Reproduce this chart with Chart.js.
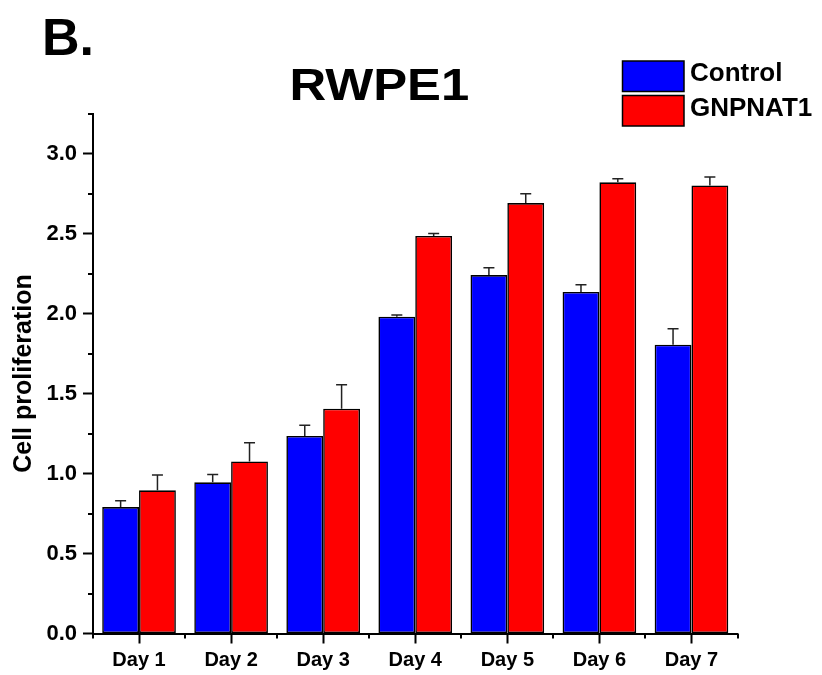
<!DOCTYPE html>
<html>
<head>
<meta charset="utf-8">
<script src="https://cdn.jsdelivr.net/npm/chart.js@4.4.1/dist/chart.umd.min.js"></script>
<style>
html,body{margin:0;padding:0;background:#fff;}
#wrap{width:822px;height:675px;position:relative;}
</style>
</head>
<body>
<div id="wrap"><canvas id="c" width="822" height="675"></canvas></div>
<script>
// ---- data ----
const categories = ['Day 1', 'Day 2', 'Day 3', 'Day 4', 'Day 5', 'Day 6', 'Day 7'];
const seriesNames = ['Control', 'GNPNAT1'];
const controlValues = [0.79, 0.945, 1.235, 1.98, 2.24, 2.135, 1.805];
const controlErrors = [0.04, 0.048, 0.067, 0.01, 0.046, 0.044, 0.10];
const gnpnatValues = [0.895, 1.075, 1.405, 2.485, 2.69, 2.82, 2.80];
const gnpnatErrors = [0.095, 0.117, 0.15, 0.015, 0.058, 0.022, 0.053];
const yTickLabels = ['0.0', '0.5', '1.0', '1.5', '2.0', '2.5', '3.0'];
const panelLabel = 'B.';
const chartTitle = 'RWPE1';
const yAxisTitle = 'Cell proliferation';

const FONT = '"Liberation Sans", Arial, Helvetica, sans-serif';
const isMajor = v => Math.abs(v * 2 - Math.round(v * 2)) < 1e-6;

const errorBarPlugin = {
  id: 'errorBars',
  afterDatasetsDraw(chart) {
    const ctx = chart.ctx;
    const ys = chart.scales.y;
    ctx.save();
    ctx.strokeStyle = '#222';
    ctx.lineWidth = 1.5;
    chart.data.datasets.forEach((ds, di) => {
      const meta = chart.getDatasetMeta(di);
      meta.data.forEach((el, i) => {
        const v = ds.data[i], e = ds.errors[i];
        const yTop = ys.getPixelForValue(v + e);
        const yBar = ys.getPixelForValue(v);
        ctx.beginPath();
        ctx.moveTo(el.x, yBar);
        ctx.lineTo(el.x, yTop);
        ctx.moveTo(el.x - 5.5, yTop);
        ctx.lineTo(el.x + 5.5, yTop);
        ctx.stroke();
      });
    });
    ctx.restore();
  }
};

const minorTickPlugin = {
  id: 'minorTicks',
  afterDraw(chart) {
    const ctx = chart.ctx;
    const xs = chart.scales.x, ys = chart.scales.y;
    const area = chart.chartArea;
    ctx.save();
    ctx.strokeStyle = '#000';
    ctx.lineWidth = 2;
    ctx.beginPath();
    ys.ticks.forEach(t => {
      if (!isMajor(t.value)) {
        const py = Math.round(ys.getPixelForValue(t.value));
        ctx.moveTo(area.left - 5, py);
        ctx.lineTo(area.left, py);
      }
    });
    for (let i = 0; i <= categories.length; i++) {
      const px = Math.round(xs.getPixelForValue(i - 0.5));
      ctx.moveTo(px, area.bottom);
      ctx.lineTo(px, area.bottom + 5);
    }
    ctx.stroke();
    ctx.restore();
  }
};

const annotationPlugin = {
  id: 'annotations',
  afterDraw(chart) {
    const ctx = chart.ctx;
    ctx.save();
    ctx.fillStyle = '#000';
    ctx.textAlign = 'left';
    ctx.textBaseline = 'alphabetic';
    // panel label
    ctx.font = 'bold 52px ' + FONT;
    ctx.fillText(panelLabel, 42, 55);
    // title (slightly wide lettering)
    ctx.font = 'bold 44px ' + FONT;
    const m = ctx.measureText(chartTitle);
    const ink = m.actualBoundingBoxLeft + m.actualBoundingBoxRight;
    const sx = 177 / ink;
    ctx.translate(291.7, 100);
    ctx.scale(sx, 1);
    ctx.fillText(chartTitle, m.actualBoundingBoxLeft, 0);
    ctx.setTransform(1, 0, 0, 1, 0, 0);
    // legend
    const boxes = [{y: 61}, {y: 95.5}];
    chart.data.datasets.forEach((ds, i) => {
      const by = boxes[i].y;
      ctx.fillStyle = ds.backgroundColor;
      ctx.fillRect(622.5, by, 61.5, 30.5);
      ctx.strokeStyle = '#000';
      ctx.lineWidth = 1.5;
      ctx.strokeRect(622.5, by, 61.5, 30.5);
      ctx.fillStyle = '#000';
      ctx.font = 'bold 26px ' + FONT;
      ctx.fillText(ds.label, 690, by + 20);
    });
    ctx.restore();
  }
};

const tickFont = {family: FONT, size: 20, weight: 'bold'};

new Chart(document.getElementById('c'), {
  type: 'bar',
  data: {
    labels: categories,
    datasets: [
      {label: seriesNames[0], data: controlValues, errors: controlErrors,
       backgroundColor: '#0000FF', borderColor: '#000', borderWidth: 1.6, borderSkipped: false},
      {label: seriesNames[1], data: gnpnatValues, errors: gnpnatErrors,
       backgroundColor: '#FF0000', borderColor: '#000', borderWidth: 1.6, borderSkipped: false}
    ]
  },
  options: {
    responsive: false,
    animation: false,
    devicePixelRatio: 1,
    layout: {padding: {top: 113.5, right: 84.5, left: 0, bottom: 0}},
    datasets: {bar: {categoryPercentage: 0.8, barPercentage: 1.0}},
    plugins: {legend: {display: false}, tooltip: {enabled: false}, title: {display: false}},
    scales: {
      x: {
        type: 'category',
        offset: true,
        grid: {offset: false, drawOnChartArea: false, tickLength: 10, tickWidth: 2, tickColor: '#000'},
        border: {color: '#000', width: 2},
        ticks: {font: tickFont, color: '#000', padding: 5, maxRotation: 0, autoSkip: false},
        afterFit(s) { s.height = 41.5; }
      },
      y: {
        min: 0, max: 3.25,
        ticks: {
          stepSize: 0.25, autoSkip: false, color: '#000', padding: 6,
          font: {family: FONT, size: 22, weight: 'bold'},
          callback: v => isMajor(v) ? yTickLabels[Math.round(v * 2)] : ''
        },
        grid: {
          drawOnChartArea: false, tickLength: 10, tickWidth: 2,
          tickColor: c => (c.tick && isMajor(c.tick.value)) ? '#000' : 'rgba(0,0,0,0)'
        },
        border: {color: '#000', width: 2},
        title: {display: true, text: yAxisTitle, color: '#000',
                font: {family: FONT, size: 25, weight: 'bold'}, padding: {top: 9, bottom: 0}},
        afterFit(s) { s.width = 93; }
      }
    }
  },
  plugins: [errorBarPlugin, minorTickPlugin, annotationPlugin]
});
</script>
</body>
</html>
